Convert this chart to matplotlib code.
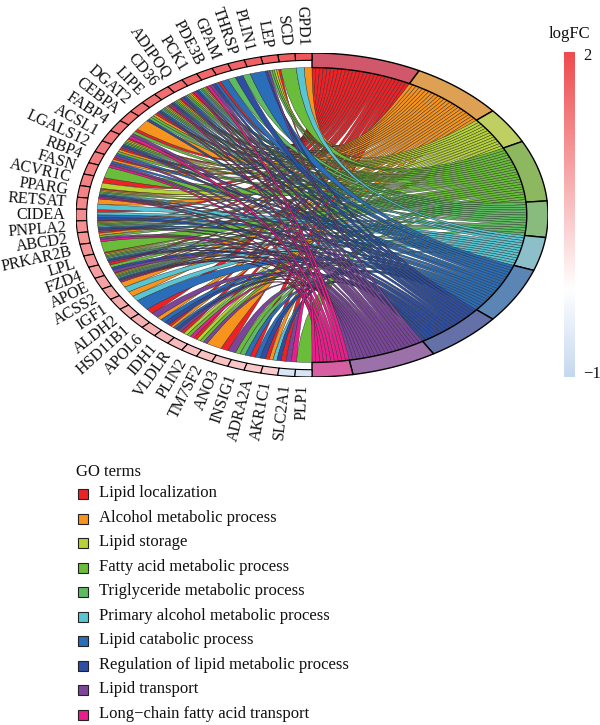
import matplotlib
matplotlib.use('Agg')
import matplotlib.pyplot as plt
import numpy as np
from matplotlib.colors import LinearSegmentedColormap
from matplotlib.patches import PathPatch, Rectangle
from matplotlib.path import Path

plt.rcParams['font.family'] = ['Liberation Serif', 'DejaVu Serif']

terms = ['Lipid localization', 'Alcohol metabolic process', 'Lipid storage',
         'Fatty acid metabolic process', 'Triglyceride metabolic process',
         'Primary alcohol metabolic process', 'Lipid catabolic process',
         'Regulation of lipid metabolic process', 'Lipid transport',
         'Long\u2212chain fatty acid transport']
term_colors = ['#ED2227', '#F7941E', '#B5D334', '#6ABD3A', '#5FBB62',
               '#59C5D3', '#2A6DB8', '#2D4EA2', '#7B459C', '#E91E8C']
ring_colors = ['#D1586A', '#DEA052', '#BFCF62', '#8DB860', '#8ABB7E',
               '#8CBFC9', '#5B85B5', '#6470A8', '#9C70A8', '#D65FA2']

genes = ['GPD1', 'SCD', 'LEP', 'PLIN1', 'THRSP', 'GPAM', 'PDE3B', 'PCK1', 'ADIPOQ',
         'CD36', 'LIPE', 'DGAT2', 'CEBPA', 'FABP4', 'ACSL1', 'LGALS12', 'RBP4', 'FASN',
         'ACVR1C', 'PPARG', 'RETSAT', 'CIDEA', 'PNPLA2', 'ABCD2', 'PRKAR2B', 'LPL',
         'FZD4', 'APOE', 'ACSS2', 'IGF1', 'ALDH2', 'HSD11B1', 'APOL6', 'IDH1', 'VLDLR',
         'PLIN2', 'TM7SF2', 'ANO3', 'INSIG1', 'ADRA2A', 'AKR1C1', 'SLC2A1', 'PLP1']
logfc = [1.85, 1.8, 1.75, 1.72, 1.7, 1.68, 1.65, 1.62, 1.6, 1.58, 1.55, 1.52, 1.5,
         1.48, 1.45, 1.42, 1.4, 1.38, 1.35, 1.32, 1.25, 1.2, 1.15, 1.12, 1.1, 1.05,
         1.0, 0.95, 0.9, 0.85, 0.82, 0.78, 0.75, 0.7, 0.65, 0.6, 0.58, 0.55, 0.5,
         0.48, 0.45, -0.7, -0.75]

# which terms each gene links to, 0 = lipid localization ... 9 = long-chain transport
gene_terms = [
    [1, 5], [3], [0, 1, 2, 3, 4, 8, 7], [6], [4, 7], [4, 6], [0, 6, 7, 8, 9],
    [0, 1, 2, 3, 4, 5, 6, 7, 8, 9], [0, 1, 2, 3, 4, 6, 7, 8], [0, 1, 2, 3, 4, 6, 7, 8, 9],
    [0, 1, 2, 3, 4, 5, 6, 7, 8], [0, 1, 3, 4, 7], [1], [0, 3, 8, 9],
    [0, 1, 2, 3, 4, 6, 7, 8], [0, 1, 3, 6, 8], [0, 1, 6, 8, 9], [3], [0, 2],
    [0, 1, 2, 3, 5, 6, 7, 8, 9], [1, 5], [0, 5, 6, 7], [0, 1, 2, 3, 4, 5, 6, 7, 8],
    [0, 1, 3, 8, 9], [3], [0, 1, 2, 3, 4, 5, 6, 7, 8], [0, 3, 7, 8],
    [0, 1, 2, 3, 4, 5, 6, 7, 8, 9], [1, 5], [1, 5], [6], [0, 8], [1, 6, 7],
    [0, 1, 6, 7, 8], [0, 2, 3, 9], [0, 2, 3, 8], [1], [0, 8], [3, 4, 6], [0, 6, 7],
    [0, 1, 5, 7], [0, 8, 9], [3],
]

cmap = LinearSegmentedColormap.from_list(
    'lfc', [(0, '#C5D8F0'), (0.27, '#FFFFFF'), (1, '#EE4B4E')])


def pt(r, t):
    return r * np.sin(np.radians(t)), r * np.cos(np.radians(t))


def arc(r, t1, t2, n=24):
    ts = np.linspace(t1, t2, n)
    return list(zip(r * np.sin(np.radians(ts)), r * np.cos(np.radians(ts))))


def band(ax, r1, r2, t1, t2, color, lw):
    xy = arc(r2, t1, t2) + arc(r1, t2, t1)
    ax.fill(*zip(*xy), facecolor=color, edgecolor='black', linewidth=lw, zorder=5)


fig = plt.figure(figsize=(6, 7.25), dpi=100)
ax = fig.add_axes([(312 - 236) / 600, 1 - (215 + 162) / 725, 472 / 600, 324 / 725])
ax.set_xlim(-1, 1)
ax.set_ylim(-1, 1)
ax.axis('off')

r_chord = 0.91
gene_w = 180 / len(genes)
n_links = sum(len(g) for g in gene_terms)
unit = 180 / n_links
counts = [sum(k in g for g in gene_terms) for k in range(len(terms))]
starts = np.concatenate([[0], np.cumsum(counts)]) * unit

# ribbons, one term at a time so the later terms lie on top
for k in range(len(terms)):
    pos = starts[k]
    for i, linked in enumerate(gene_terms):
        if k not in linked:
            continue
        w = gene_w / len(linked)
        g_up = -(i * gene_w + linked.index(k) * w)
        g_low = g_up - w
        side_a = arc(r_chord, pos, pos + unit, 6)
        side_b = arc(r_chord, g_low, g_up, 6)
        codes = ([Path.MOVETO] + [Path.LINETO] * 5 + [Path.CURVE3, Path.CURVE3]
                 + [Path.LINETO] * 5 + [Path.CURVE3, Path.CURVE3])
        verts = side_a + [(0, 0), side_b[0]] + side_b[1:] + [(0, 0), side_a[0]]
        ax.add_patch(PathPatch(Path(verts, codes), facecolor=term_colors[k],
                               edgecolor='#2a2a2a', linewidth=0.3, zorder=3))
        pos += unit

for k in range(len(terms)):
    band(ax, r_chord, 1, starts[k], starts[k + 1], ring_colors[k], 1.0)

for i, gene in enumerate(genes):
    color = cmap((logfc[i] + 1) / 3)
    band(ax, 0.955, 1, -i * gene_w, -(i + 1) * gene_w, color, 0.8)
    t = (i + 0.5) * gene_w
    x, y = pt(1.045, -t)
    ax.text(x, y, gene, rotation=t - 90, rotation_mode='anchor', ha='right',
            va='center', fontsize=11.5, color='#111111')

# colour bar
cax = fig.add_axes([564 / 600, 1 - 377 / 725, 11 / 600, 325 / 725])
cax.imshow(np.linspace(2, -1, 256).reshape(-1, 1), cmap=cmap, vmin=-1, vmax=2,
           aspect='auto', extent=[0, 1, -1, 2])
cax.axis('off')

# overlay in pixel units for the legend and colour bar text
lax = fig.add_axes([0, 0, 1, 1], zorder=-1)
lax.set_xlim(0, 600)
lax.set_ylim(725, 0)
lax.axis('off')
lax.text(549, 34, 'logFC', fontsize=12, va='center', color='#111111')
lax.text(583, 56, '2', fontsize=12, va='center', color='#111111')
lax.text(583, 374, '\u22121', fontsize=12, va='center', color='#111111')

lax.text(76, 472, 'GO terms', fontsize=12, va='center', color='#111111')
row_y = [494, 519, 543, 568, 592, 617, 641, 666, 690, 715]
for name, color, y in zip(terms, term_colors, row_y):
    lax.add_patch(Rectangle((78, y - 5), 10, 10, facecolor=color, edgecolor='#222222',
                            linewidth=0.8))
    lax.text(99, y - 1, name, fontsize=12, va='center', color='#111111')

fig.savefig('out.png', dpi=100)
